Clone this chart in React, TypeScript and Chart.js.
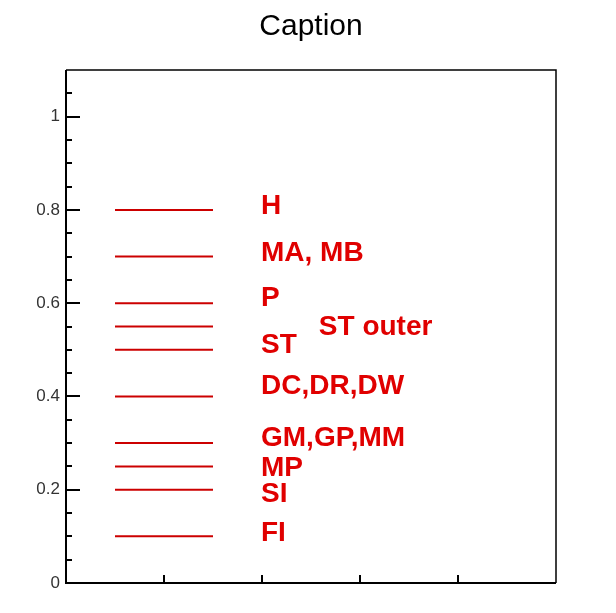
import React, { useEffect, useRef } from "react";
import { Chart, registerables } from "chart.js";

Chart.register(...registerables);

// Levels (y values) of the horizontal red segments
const levelValues = [0.8, 0.7, 0.6, 0.55, 0.5, 0.4, 0.3, 0.25, 0.2, 0.1];
const segmentStart = 0.5;
const segmentEnd = 1.5;

// Annotation texts and their anchor positions (data units)
const labelTexts = ["H", "MA, MB", "P", "ST outer", "ST", "DC,DR,DW", "GM,GP,MM", "MP", "SI", "FI"];
const labelX = [1.99, 1.99, 1.99, 2.58, 1.99, 1.99, 1.99, 1.99, 1.99, 1.99];
const labelY = [0.808, 0.708, 0.61, 0.549, 0.51, 0.422, 0.31, 0.247, 0.19, 0.106];

// Axis ticks
const yMajorTicks = [0, 0.2, 0.4, 0.6, 0.8, 1];
const yMinorTicks = [0.05, 0.1, 0.15, 0.25, 0.3, 0.35, 0.45, 0.5, 0.55, 0.65, 0.7, 0.75, 0.85, 0.9, 0.95, 1.05];
const xTicks = [1, 2, 3, 4];

const titleText = "Caption";

const framePlugin = {
  id: "frameAndLabels",
  afterDatasetsDraw(chart: any) {
    const { ctx, chartArea, scales } = chart;
    const xs = scales.x;
    const ys = scales.y;
    const { left, right, top, bottom } = chartArea;
    ctx.save();
    // frame
    ctx.strokeStyle = "#000";
    ctx.lineWidth = 1.5;
    ctx.beginPath();
    ctx.moveTo(left, top);
    ctx.lineTo(right, top);
    ctx.lineTo(right, bottom);
    ctx.stroke();
    ctx.lineWidth = 2;
    ctx.beginPath();
    ctx.moveTo(left, top);
    ctx.lineTo(left, bottom);
    ctx.lineTo(right, bottom);
    ctx.stroke();
    // inward ticks
    ctx.lineWidth = 2;
    ctx.beginPath();
    yMajorTicks.forEach((v) => {
      const py = Math.round(ys.getPixelForValue(v));
      ctx.moveTo(left, py);
      ctx.lineTo(left + 14, py);
    });
    yMinorTicks.forEach((v) => {
      const py = Math.round(ys.getPixelForValue(v));
      ctx.moveTo(left, py);
      ctx.lineTo(left + 6, py);
    });
    xTicks.forEach((v) => {
      const px = Math.round(xs.getPixelForValue(v));
      ctx.moveTo(px, bottom);
      ctx.lineTo(px, bottom - 8);
    });
    ctx.stroke();
    // annotation labels
    ctx.fillStyle = "#e00000";
    ctx.font = "bold 28px 'Liberation Sans', Arial, Helvetica, sans-serif";
    ctx.textAlign = "left";
    ctx.textBaseline = "middle";
    labelTexts.forEach((t, i) => {
      ctx.fillText(t, xs.getPixelForValue(labelX[i]), ys.getPixelForValue(labelY[i]));
    });
    ctx.restore();
  },
};

export default function App() {
  const canvasRef = useRef<HTMLCanvasElement | null>(null);

  useEffect(() => {
    const canvas = canvasRef.current;
    if (!canvas) return;
    const datasets = levelValues.map((v, i) => ({
      label: labelTexts[i],
      data: [
        { x: segmentStart, y: v },
        { x: segmentEnd, y: v },
      ],
      borderColor: "#cc0000",
      borderWidth: 2,
      pointRadius: 0,
      fill: false,
    }));
    const chart = new Chart(canvas, {
      type: "line",
      data: { datasets },
      options: {
        responsive: false,
        animation: false,
        events: [],
        layout: { padding: { left: 0, right: 60, top: 0, bottom: 0 } },
        plugins: {
          legend: { display: false },
          tooltip: { enabled: false },
          title: {
            display: true,
            fullSize: false,
            text: titleText,
            color: "#000",
            font: { family: "'Liberation Sans', Arial, Helvetica, sans-serif", size: 30, weight: "normal", lineHeight: 1.2 },
            padding: { top: 9, bottom: 25 },
          },
        },
        scales: {
          x: {
            type: "linear",
            min: 0,
            max: 5,
            grid: { display: false, drawTicks: false },
            border: { display: false },
            ticks: { display: false },
            afterFit: (scale: any) => {
              scale.height = 30;
              scale.paddingLeft = 0;
              scale.paddingRight = 0;
            },
          },
          y: {
            type: "linear",
            min: 0,
            max: 1.1,
            grid: { display: false, drawTicks: false },
            border: { display: false },
            ticks: {
              stepSize: 0.2,
              includeBounds: false,
              padding: 6,
              color: "#333",
              font: { family: "'Liberation Sans', Arial, Helvetica, sans-serif", size: 17 },
              callback: (v: any) => String(Math.round(Number(v) * 10) / 10),
            },
            afterFit: (scale: any) => {
              scale.width = 66;
              scale.paddingTop = 0;
              scale.paddingBottom = 0;
            },
          },
        },
      },
      plugins: [framePlugin],
    });
    return () => chart.destroy();
  }, []);

  return (
    <div style={{ position: "fixed", left: 0, top: 0, width: 616, height: 613, background: "#fff" }}>
      <canvas ref={canvasRef} width={616} height={613} style={{ display: "block" }} />
    </div>
  );
}
